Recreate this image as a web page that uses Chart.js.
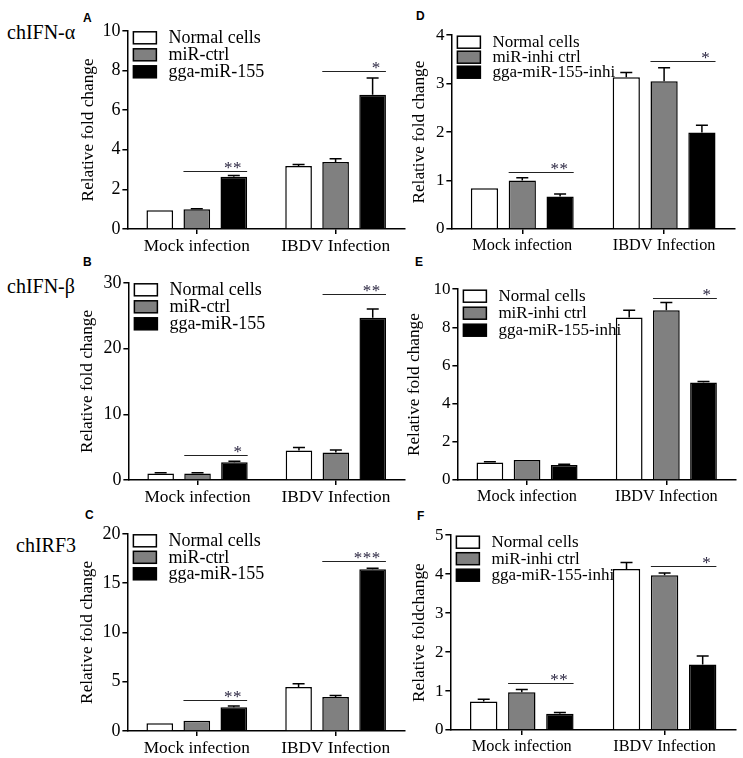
<!DOCTYPE html>
<html>
<head>
<meta charset="utf-8">
<script src="https://cdn.jsdelivr.net/npm/chart.js@4.4.1/dist/chart.umd.min.js"></script>
<style>
  html, body { margin: 0; padding: 0; background: #fff; }
  body { position: relative; width: 743px; height: 758px; overflow: hidden; }
  canvas { position: absolute; }
  .letter { position: absolute; font: bold 12px 'Liberation Sans', Arial, sans-serif; line-height: 12px; }
  .gene { position: absolute; font: 20px 'Liberation Serif', 'Times New Roman', serif; line-height: 20px; white-space: nowrap; }
</style>
</head>
<body>
<div class="letter" style="left:83px;top:12px">A</div>
<div class="letter" style="left:83px;top:256px">B</div>
<div class="letter" style="left:85px;top:509px">C</div>
<div class="letter" style="left:416px;top:10px">D</div>
<div class="letter" style="left:415px;top:256px">E</div>
<div class="letter" style="left:417px;top:510px">F</div>
<div class="gene" style="left:7px;top:22px">chIFN-α</div>
<div class="gene" style="left:7px;top:276px">chIFN-β</div>
<div class="gene" style="left:16px;top:535px">chIRF3</div>

<script>
const categories = ['Mock infection', 'IBDV Infection'];
const groupsLeft = ['Normal cells', 'miR-ctrl', 'gga-miR-155'];
const groupsRight = ['Normal cells', 'miR-inhi ctrl', 'gga-miR-155-inhi'];

// A - chIFN-alpha, mimic
const aNormal = [0.95, 3.18], aNormalErr = [0, 0.07];
const aCtrl = [1.0, 3.38], aCtrlErr = [0.02, 0.17];
const aMiR = [2.63, 6.77], aMiRErr = [0.07, 0.85];
const aSig = [[0, 2.91, '**'], [1, 7.95, '*']];

// B - chIFN-beta, mimic
const bNormal = [1.0, 4.5], bNormalErr = [0.1, 0.45];
const bCtrl = [1.0, 4.2], bCtrlErr = [0.1, 0.35];
const bMiR = [2.7, 24.7], bMiRErr = [0.15, 1.3];
const bSig = [[0, 3.8, '*'], [1, 28.3, '**']];

// C - chIRF3, mimic
const cNormal = [0.78, 4.47], cNormalErr = [0, 0.33];
const cCtrl = [1.04, 3.46], cCtrlErr = [0, 0.14];
const cMiR = [2.4, 16.4], cMiRErr = [0.13, 0.1];
const cSig = [[0, 3.13, '**'], [1, 17.2, '***']];

// D - chIFN-alpha, inhibitor
const dNormal = [0.84, 3.13], dNormalErr = [0, 0.1];
const dCtrl = [1.0, 3.05], dCtrlErr = [0.06, 0.28];
const dInhi = [0.67, 1.99], dInhiErr = [0.05, 0.15];
const dSig = [[0, 1.17, '**'], [1, 3.46, '*']];

// E - chIFN-beta, inhibitor
const eNormal = [0.92, 8.52], eNormalErr = [0.03, 0.38];
const eCtrl = [1.05, 8.9], eCtrlErr = [0, 0.4];
const eInhi = [0.78, 5.11], eInhiErr = [0.04, 0.05];
const eSig = [[1, 9.55, '*']];

// F - chIRF3, inhibitor
const fNormal = [0.73, 4.13], fNormalErr = [0.06, 0.17];
const fCtrl = [0.97, 3.97], fCtrlErr = [0.07, 0.06];
const fInhi = [0.42, 1.68], fInhiErr = [0.03, 0.22];
const fSig = [[0, 1.21, '**'], [1, 4.2, '*']];

const SERIF = "'Liberation Serif', 'Times New Roman', serif";
Chart.defaults.font.family = SERIF;
const fills = ['#ffffff', '#808080', '#000000'];

// rect = plot area [left, top, right, bottom] in page pixels, gap = axis to title centre
const panels = [
  { rect: [127, 30, 405, 229], gap: 39, max: 10, step: 2, names: groupsLeft,
    values: [aNormal, aCtrl, aMiR], errors: [aNormalErr, aCtrlErr, aMiRErr], sig: aSig,
    legendSize: 18, legendGap: 17, xFont: 17.3, yFont: 18, title: 'Relative fold change' },
  { rect: [128, 282, 405, 480], gap: 41, max: 30, step: 10, names: groupsLeft,
    values: [bNormal, bCtrl, bMiR], errors: [bNormalErr, bCtrlErr, bMiRErr], sig: bSig,
    legendSize: 18, legendGap: 17, xFont: 17.3, yFont: 18, title: 'Relative fold change' },
  { rect: [127, 533, 405, 731], gap: 40, max: 20, step: 5, names: groupsLeft,
    values: [cNormal, cCtrl, cMiR], errors: [cNormalErr, cCtrlErr, cMiRErr], sig: cSig,
    legendSize: 18, legendGap: 16.5, xFont: 17.3, yFont: 18, title: 'Relative fold change' },
  { rect: [451, 35, 735, 229], gap: 32, max: 4, step: 1, names: groupsRight,
    values: [dNormal, dCtrl, dInhi], errors: [dNormalErr, dCtrlErr, dInhiErr], sig: dSig,
    legendSize: 17, legendGap: 15, xFont: 16.3, yFont: 17, title: 'Relative fold change' },
  { rect: [457, 289, 736, 480], gap: 43, max: 10, step: 2, names: groupsRight,
    values: [eNormal, eCtrl, eInhi], errors: [eNormalErr, eCtrlErr, eInhiErr], sig: eSig,
    legendSize: 17, legendGap: 17, xFont: 16.3, yFont: 17, title: 'Relative fold change' },
  { rect: [450, 535, 736, 730], gap: 31, max: 5, step: 1, names: groupsRight,
    values: [fNormal, fCtrl, fInhi], errors: [fNormalErr, fCtrlErr, fInhiErr], sig: fSig,
    legendSize: 17, legendGap: 16.5, xFont: 16.3, yFont: 17, title: 'Relative foldchange' }
];

// error bars, significance lines and the in-plot legend
const extras = {
  id: 'extras',
  afterDatasetsDraw(chart, args, opts) {
    const ctx = chart.ctx;
    const yScale = chart.scales.y;
    ctx.save();
    ctx.strokeStyle = '#000';
    ctx.lineWidth = 1.5;
    chart.data.datasets.forEach((ds, i) => {
      chart.getDatasetMeta(i).data.forEach((bar, j) => {
        const e = ds.errors[j];
        if (!e) return;
        const top = yScale.getPixelForValue(ds.data[j] + e);
        ctx.beginPath();
        ctx.moveTo(bar.x, bar.y);
        ctx.lineTo(bar.x, top);
        ctx.moveTo(bar.x - 6, top);
        ctx.lineTo(bar.x + 6, top);
        ctx.stroke();
      });
    });

    ctx.lineWidth = 1;
    ctx.strokeStyle = '#222';
    ctx.fillStyle = '#2a2540';
    ctx.font = '17px ' + SERIF;
    ctx.textAlign = 'center';
    ctx.textBaseline = 'alphabetic';
    opts.sig.forEach(([cat, val, txt]) => {
      const b1 = chart.getDatasetMeta(1).data[cat];
      const b2 = chart.getDatasetMeta(2).data[cat];
      const x1 = b1.x - b1.width / 2;
      const x2 = b2.x + b2.width / 2;
      const y = Math.round(yScale.getPixelForValue(val)) + 0.5;
      ctx.beginPath();
      ctx.moveTo(x1, y);
      ctx.lineTo(x2, y);
      ctx.stroke();
      const n = txt.length;
      for (let k = 0; k < n; k++) {
        ctx.fillText('*', x2 - 10 - (n - 1 - k) * 9, y + 1.5);
      }
    });

    const area = chart.chartArea;
    ctx.font = opts.legendSize + 'px ' + SERIF;
    ctx.textAlign = 'left';
    ctx.textBaseline = 'middle';
    ctx.lineWidth = 1.5;
    ctx.strokeStyle = '#000';
    chart.data.datasets.forEach((ds, i) => {
      const x = area.left + 6;
      const y = area.top + 1 + i * opts.legendGap;
      ctx.fillStyle = ds.backgroundColor;
      ctx.fillRect(x, y, 23, 12);
      ctx.strokeRect(x, y, 23, 12);
      ctx.fillStyle = '#000';
      ctx.fillText(ds.label, x + 35, y + 6.5);
    });
    ctx.restore();
  }
};

const PAD_TOP = 12, PAD_RIGHT = 8, X_HEIGHT = 30, TITLE_SIZE = 17.3;

panels.forEach(p => {
  const [l, t, r, b] = p.rect;
  const yWidth = p.gap + TITLE_SIZE * 0.6;
  const canvas = document.createElement('canvas');
  canvas.width = Math.round(r - l + yWidth + PAD_RIGHT);
  canvas.height = Math.round(b - t + PAD_TOP + X_HEIGHT);
  canvas.style.left = (l - yWidth) + 'px';
  canvas.style.top = (t - PAD_TOP) + 'px';
  document.body.appendChild(canvas);

  new Chart(canvas.getContext('2d'), {
    type: 'bar',
    data: {
      labels: categories,
      datasets: p.names.map((name, i) => ({
        label: name,
        data: p.values[i],
        errors: p.errors[i],
        backgroundColor: fills[i],
        borderColor: '#000',
        borderWidth: 1.5,
        categoryPercentage: 0.8,
        barPercentage: 0.72
      }))
    },
    options: {
      responsive: false,
      animation: false,
      layout: { padding: { top: PAD_TOP, right: PAD_RIGHT, left: 0, bottom: 0 } },
      plugins: {
        legend: { display: false },
        tooltip: { enabled: false },
        extras: { sig: p.sig, legendSize: p.legendSize, legendGap: p.legendGap }
      },
      scales: {
        x: {
          afterFit: s => { s.height = X_HEIGHT; },
          grid: { offset: false, drawOnChartArea: false, drawTicks: true, tickLength: 5, color: '#000', lineWidth: 1.5 },
          border: { display: true, color: '#000', width: 1.5 },
          ticks: { color: '#000', font: { family: SERIF, size: p.xFont }, padding: 2 }
        },
        y: {
          min: 0,
          max: p.max,
          afterFit: s => { s.width = yWidth; },
          grid: { drawOnChartArea: false, drawTicks: true, tickLength: 5, color: '#000', lineWidth: 1.5 },
          border: { display: true, color: '#000', width: 1.5 },
          ticks: { stepSize: p.step, color: '#000', font: { family: SERIF, size: p.yFont }, padding: 2 },
          title: { display: true, text: p.title, color: '#000', font: { family: SERIF, size: TITLE_SIZE }, padding: 0 }
        }
      }
    },
    plugins: [extras]
  });
});
</script>
</body>
</html>
